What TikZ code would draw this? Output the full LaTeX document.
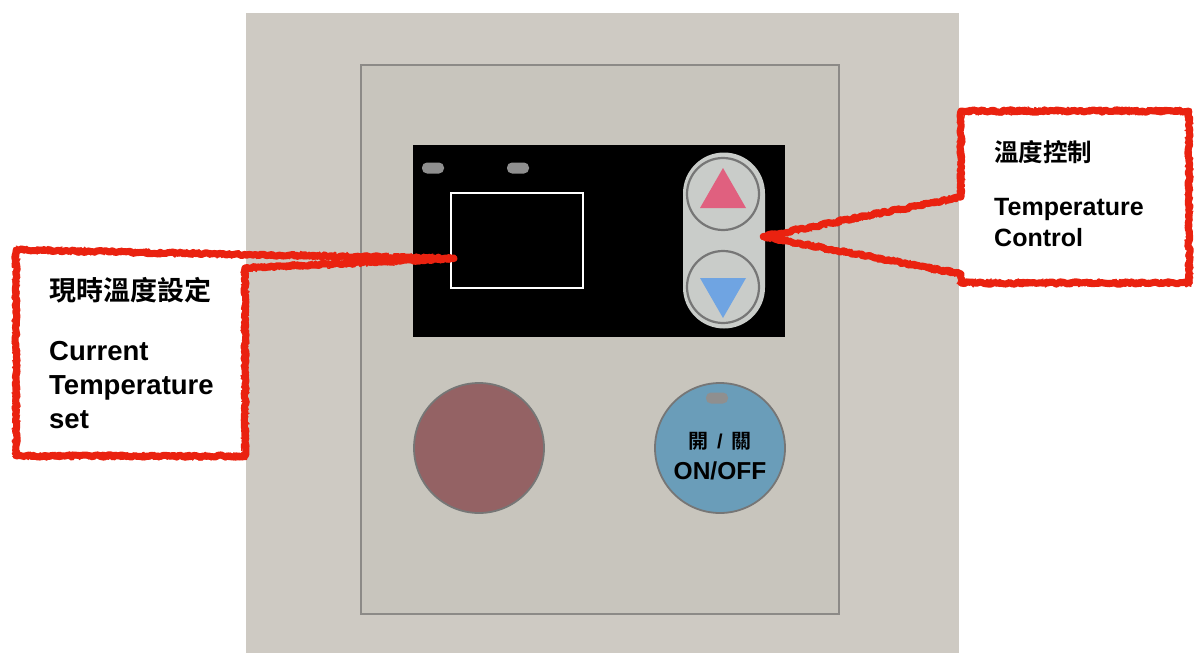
\documentclass[tikz,border=0pt]{standalone}
\usepackage{fontspec}
\setmainfont{Liberation Sans}
\newfontfamily\cjk{Noto Sans CJK TC}[BoldFont={Noto Sans CJK TC Bold}]
\usetikzlibrary{decorations.pathmorphing,calc}
\definecolor{outerc}{HTML}{CECAC3}
\definecolor{innerc}{HTML}{C8C5BD}
\definecolor{edgec}{HTML}{8C8A87}
\definecolor{ledc}{HTML}{8F8F8F}
\definecolor{capc}{HTML}{C9CCC9}
\definecolor{ringc}{HTML}{767676}
\definecolor{upc}{HTML}{E0607F}
\definecolor{downc}{HTML}{6FA4E2}
\definecolor{redbtn}{HTML}{946264}
\definecolor{bluebtn}{HTML}{6A9DB9}
\definecolor{cred}{HTML}{EA2210}
\tikzset{
  led/.style={fill=ledc, rounded corners=5, minimum width=22, minimum height=11, inner sep=0},
  ring/.style={circle, draw=ringc, line width=2.2, minimum size=72, inner sep=0},
  bigbtn/.style={circle, draw=ringc, line width=1.8, minimum size=130, inner sep=0},
  roughA/.style={draw=cred, line width=7, line join=round, line cap=round, decorate,
    decoration={random steps, segment length=3pt, amplitude=1.2pt}},
  roughB/.style={draw=cred, line width=3, line join=round, line cap=round, decorate,
    decoration={random steps, segment length=2pt, amplitude=3pt}},
  roughC/.style={draw=cred, line width=1.2, line join=round, decorate,
    decoration={random steps, segment length=1.5pt, amplitude=4.2pt}},
  lbl/.style={anchor=base west, inner sep=0, font=\bfseries},
}
\begin{document}
\begin{tikzpicture}[x=1pt, y=-1pt]
\useasboundingbox (0,0) rectangle (1195,653);
\fill[white] (0,0) rectangle (1195,653);
% panels
\node[fill=outerc, minimum width=713, minimum height=640, inner sep=0, anchor=north west] (outer) at (246,13) {};
\node[fill=innerc, draw=edgec, line width=1.5, minimum width=478, minimum height=549, inner sep=0, anchor=north west] (inner) at (360,64) {};
% display
\node[fill=black, minimum width=372, minimum height=192, inner sep=0, anchor=north west] (lcd) at (413,145) {};
\node[led] (led1) at (433,168) {};
\node[led] (led2) at (518,168) {};
\node[draw=white, line width=2, minimum width=132, minimum height=95, inner sep=0] (screen) at (517,240.5) {};
% up/down capsule
\node[fill=capc, rounded corners=41, minimum width=82, minimum height=176, inner sep=0] (caps) at (724,240.5) {};
\node[ring] (upbtn) at (723,194) {};
\node[ring] (downbtn) at (723,287) {};
\fill[upc] (700,208) -- (746,208) -- (723,168) -- cycle;
\fill[downc] (700,278) -- (746,278) -- (723,318) -- cycle;
% round buttons
\node[bigbtn, fill=redbtn] (redb) at (479,448) {};
\node[bigbtn, fill=bluebtn] (blueb) at (720,448) {};
\node[led] (led3) at (717,398) {};
\node[inner sep=0, font=\bfseries\fontsize{20}{22}\selectfont] (kai) at (720,441) {{\cjk 開}\hspace{9pt}/\hspace{9pt}{\cjk 關}};
\node[inner sep=0, anchor=base, font=\bfseries\fontsize{24.5}{26}\selectfont] (onoff) at (720,479) {ON/OFF};
% left callout
\coordinate (lA) at (16,250);
\coordinate (ltip) at ($(screen.west)+(4,18)$);
\coordinate (lB) at (245,268);
\coordinate (lC) at (245,456);
\coordinate (lD) at (16,456);
\fill[white] (lA) -- (245,254) -- (lB) -- (lC) -- (lD) -- cycle;
\foreach \s in {roughA,roughB,roughC}
  \draw[\s] (lA) -- (ltip) -- (lB) -- (lC) -- (lD) -- cycle;
\node[lbl, font=\bfseries\fontsize{27}{30}\selectfont] (lcn) at (49,300) {\cjk 現時溫度設定};
\node[lbl, font=\bfseries\fontsize{27.5}{30}\selectfont] (l1) at (49,360) {Current};
\node[lbl, font=\bfseries\fontsize{27.5}{30}\selectfont] (l2) at (49,394) {Temperature};
\node[lbl, font=\bfseries\fontsize{27.5}{30}\selectfont] (l3) at (49,428) {set};
% right callout
\coordinate (rA) at (961,111);
\coordinate (rB) at (1189,111);
\coordinate (rC) at (1189,283);
\coordinate (rD) at (961,283);
\coordinate (rE) at (961,274);
\coordinate (rtip) at ($(caps.east)+(-2,-4)$);
\coordinate (rF) at (961,197);
\fill[white] (rA) rectangle (rC);
\foreach \s in {roughA,roughB,roughC}
  \draw[\s] (rA) -- (rB) -- (rC) -- (rD) -- (rE) -- (rtip) -- (rF) -- cycle;
\node[lbl, font=\bfseries\fontsize{24.5}{28}\selectfont] (rcn) at (994,161) {\cjk 溫度控制};
\node[lbl, font=\bfseries\fontsize{25}{28}\selectfont] (r1) at (994,215) {Temperature};
\node[lbl, font=\bfseries\fontsize{25}{28}\selectfont] (r2) at (994,246) {Control};
\end{tikzpicture}
\end{document}
